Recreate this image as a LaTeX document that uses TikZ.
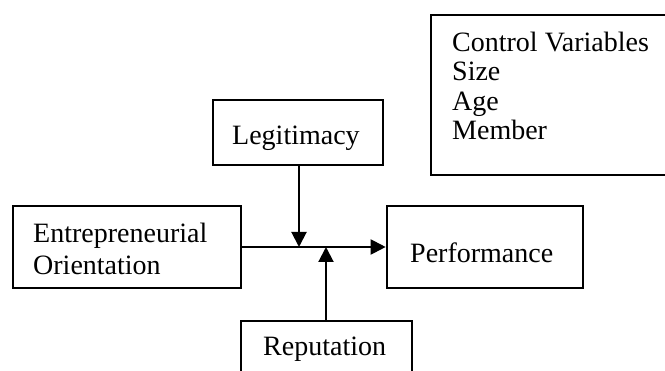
\documentclass[tikz,border=0pt]{standalone}
\usepackage{fontspec}
\setmainfont{Liberation Serif}
\usetikzlibrary{arrows.meta}
\begin{document}
\begin{tikzpicture}[x=1pt,y=-1pt,
  box/.style={draw=black,line width=2.6pt,minimum width=#1,inner sep=0pt},
  lbl/.style={anchor=base west,inner sep=0pt,align=left,font=\fontsize{28}{32}\selectfont},
  conn/.style={line width=2pt,-{Triangle[length=15pt,width=15pt]}}]
\useasboundingbox (0,0) rectangle (665,371);
% boxes
\node[box=236pt,minimum height=160pt] (ctrl) at (549,95) {};
\node[box=170pt,minimum height=65pt] (leg) at (298,132.5) {};
\node[box=228pt,minimum height=82pt] (eo) at (127,247) {};
\node[box=196pt,minimum height=82pt] (perf) at (485,247) {};
\node[box=171pt,minimum height=64pt] (rep) at (326.5,353) {};
% texts (base anchor = baseline of last line)
\node[lbl,font=\fontsize{28}{29.5}\selectfont] (ctrlt) at (452,140) {Control Variables\\Size\\Age\\Member};
\node[lbl] (legt) at (232,145) {Legitimacy};
\node[lbl,font=\fontsize{28}{32}\selectfont] (eot) at (33,275) {Entrepreneurial\\Orientation};
\node[lbl] (perft) at (410,262.5) {Performance};
\node[lbl] (rept) at (263,356) {Reputation};
% connectors
\draw[conn] (eo.east) -- (perf.west);
\coordinate (legend) at (299,247);
\coordinate (repend) at (326,247);
\draw[conn] (leg.south -| legend) -- (legend);
\draw[conn] (rep.north -| repend) -- (repend);
\end{tikzpicture}
\end{document}
